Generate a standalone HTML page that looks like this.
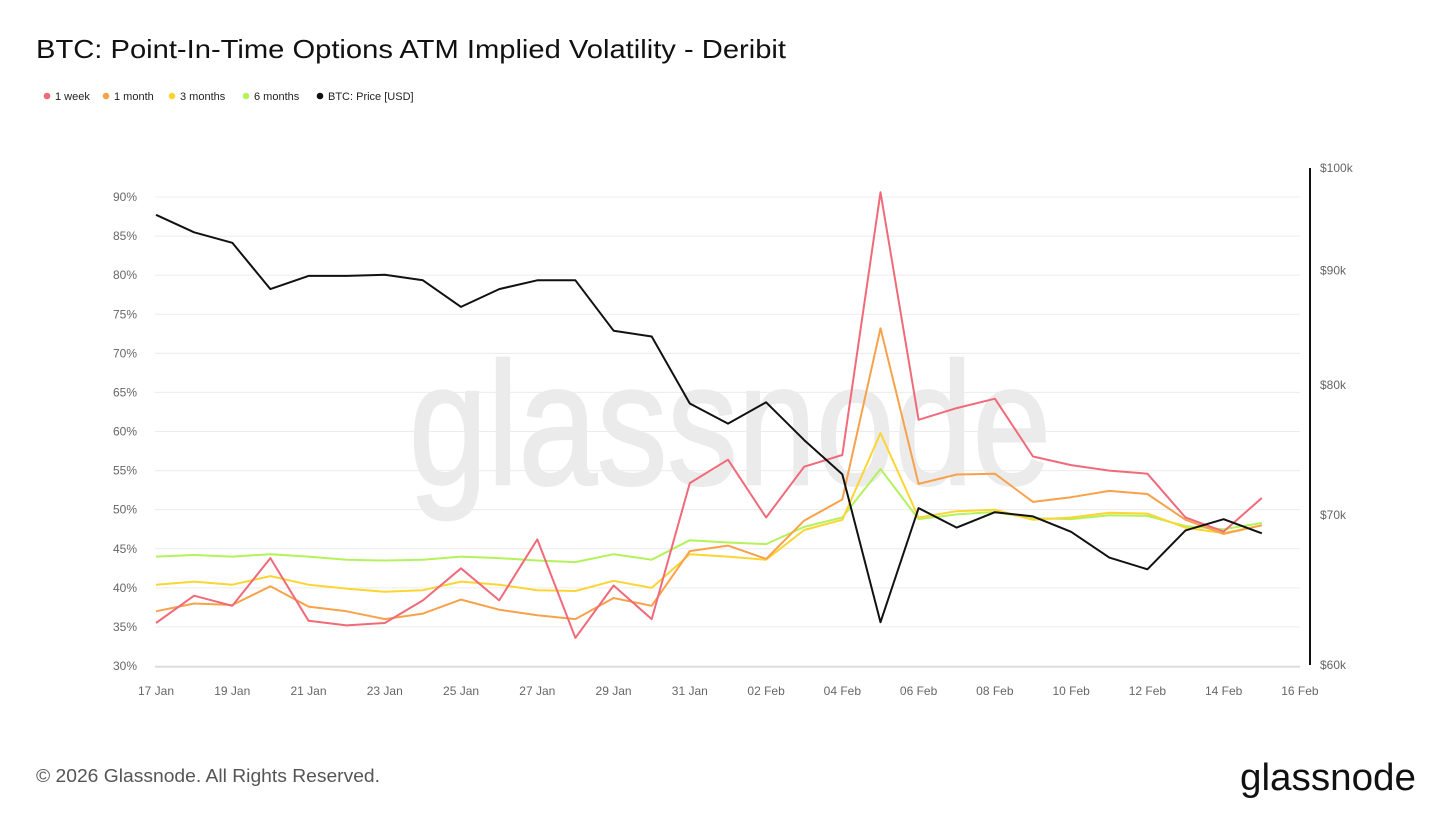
<!DOCTYPE html>
<html><head><meta charset="utf-8">
<style>
body{margin:0;background:#fff;font-family:"Liberation Sans",sans-serif;}
#wrap{position:relative;width:1456px;height:819px;overflow:hidden;}
</style></head>
<body>
<div id="wrap">
<svg id="svg" width="1456" height="819">
<text x="36" y="58" font-size="26" textLength="750" lengthAdjust="spacingAndGlyphs" fill="#111">BTC: Point-In-Time Options ATM Implied Volatility - Deribit</text>
<g id="legend"></g>
<text x="409" y="484" font-size="174" textLength="642" lengthAdjust="spacingAndGlyphs" fill="#ebebeb" stroke="#ebebeb" stroke-width="2.5">glassnode</text>
<g id="grid"></g>
<g id="axes"></g>
<g id="series"></g>
<text x="36" y="782" font-size="18" textLength="344" lengthAdjust="spacingAndGlyphs" fill="#555">© 2026 Glassnode. All Rights Reserved.</text>
<text x="1416" y="790" text-anchor="end" font-size="38" textLength="176" lengthAdjust="spacingAndGlyphs" fill="#111">glassnode</text>
</svg>
</div>
<script>
const dates=['17 Jan','18 Jan','19 Jan','20 Jan','21 Jan','22 Jan','23 Jan','24 Jan','25 Jan','26 Jan','27 Jan','28 Jan','29 Jan','30 Jan','31 Jan','01 Feb','02 Feb','03 Feb','04 Feb','05 Feb','06 Feb','07 Feb','08 Feb','09 Feb','10 Feb','11 Feb','12 Feb','13 Feb','14 Feb','15 Feb'];
const xTicks=['17 Jan','19 Jan','21 Jan','23 Jan','25 Jan','27 Jan','29 Jan','31 Jan','02 Feb','04 Feb','06 Feb','08 Feb','10 Feb','12 Feb','14 Feb','16 Feb'];
const yTicks=[30,35,40,45,50,55,60,65,70,75,80,85,90];
const priceTicks=[60,70,80,90,100];
const week1=[35.5,39,37.7,43.8,35.8,35.2,35.5,38.4,42.5,38.4,46.2,33.6,40.3,36,53.4,56.4,49,55.5,57,90.6,61.5,63,64.2,56.8,55.7,55,54.6,49,47.2,51.5];
const month1=[37,38,37.8,40.2,37.6,37,36,36.7,38.5,37.2,36.5,36,38.7,37.7,44.7,45.4,43.7,48.6,51.3,73.2,53.3,54.5,54.6,51,51.6,52.4,52,48.7,46.9,48];
const month3=[40.4,40.8,40.4,41.5,40.4,39.9,39.5,39.7,40.8,40.4,39.7,39.6,40.9,40,44.3,44,43.6,47.4,48.7,59.8,49,49.8,50,48.7,49,49.6,49.5,47.7,47,48];
const month6=[44,44.2,44,44.3,44,43.6,43.5,43.6,44,43.8,43.5,43.3,44.3,43.6,46.1,45.8,45.6,47.8,49,55.2,48.8,49.4,49.7,48.9,48.8,49.3,49.2,47.9,47.5,48.3];
const price=[95.3,93.6,92.6,88.3,89.5,89.5,89.6,89.1,86.7,88.3,89.1,89.1,84.6,84.1,78.5,76.9,78.6,75.6,73.0,62.7,70.5,69.1,70.2,69.9,68.8,67.0,66.2,68.9,69.7,68.7];
const NS='http://www.w3.org/2000/svg';
function mk(tag,attrs,parent,txt){const e=document.createElementNS(NS,tag);for(const k in attrs)e.setAttribute(k,attrs[k]);if(txt!==undefined)e.textContent=txt;parent.appendChild(e);return e;}
const x0=156,dx=38.13;
const xs=i=>x0+dx*i;
const xd=d=>{const m=d.match(/(\d+) (\w+)/);const day=+m[1]+(m[2]==='Feb'?31:0)-17;return xs(day);};
const yL=v=>197+(90-v)*7.817;
const yR=p=>168+(Math.log10(100)-Math.log10(p))/(Math.log10(100)-Math.log10(60))*497;
const grid=document.getElementById('grid'),axes=document.getElementById('axes'),ser=document.getElementById('series'),leg=document.getElementById('legend');
yTicks.forEach(v=>{
 const l=mk('line',{x1:155,x2:1300,y1:yL(v),y2:yL(v),stroke:'#ececec','stroke-width':1},grid);
 
 const t=mk('text',{x:137,y:yL(v)+4,'text-anchor':'end','font-size':12,fill:'#666'},axes,v+'%');
 
});
const bl=mk('line',{x1:155,x2:1300,y1:667,y2:667,stroke:'#ccc'},axes);

xTicks.forEach(d=>{
 const t=mk('text',{x:xd(d),y:695,'text-anchor':'middle','font-size':12,fill:'#666'},axes,d);
 
});
const ra=mk('line',{x1:1310,x2:1310,y1:yR(100),y2:yR(60),stroke:'#111','stroke-width':2},axes);

priceTicks.forEach(p=>{
 const t=mk('text',{x:1320,y:yR(p)+4,'font-size':12,fill:'#666'},axes,'$'+p+'k');
 
});
function line(vals,fy,color,name){
 const d=vals.map((v,i)=>(i?'L':'M')+xs(i).toFixed(1)+','+fy(v).toFixed(1)).join('');
 const p=mk('path',{d:d,fill:'none',stroke:color,'stroke-width':2,'stroke-linejoin':'round'},ser);
 
}
line(month6,yL,'#b4f25c','line-6-months');
line(month3,yL,'#fcd535','line-3-months');
line(month1,yL,'#f7a24b','line-1-month');
line(week1,yL,'#f06a7a','line-1-week');
line(price,yR,'#111','line-btc-price');
const legItems=[['1 week','#f06a7a',45],['1 month','#f7a24b',104],['3 months','#fcd535',170],['6 months','#b4f25c',244],['BTC: Price [USD]','#111',318]];
legItems.forEach(it=>{
 const g=mk('g',{},leg);
 
 mk('circle',{cx:it[2]+2,cy:96,r:3.3,fill:it[1]},g);
 mk('text',{x:it[2]+10,y:100,'font-size':11,fill:'#222'},g,it[0]);
});
</script>
</body></html>
